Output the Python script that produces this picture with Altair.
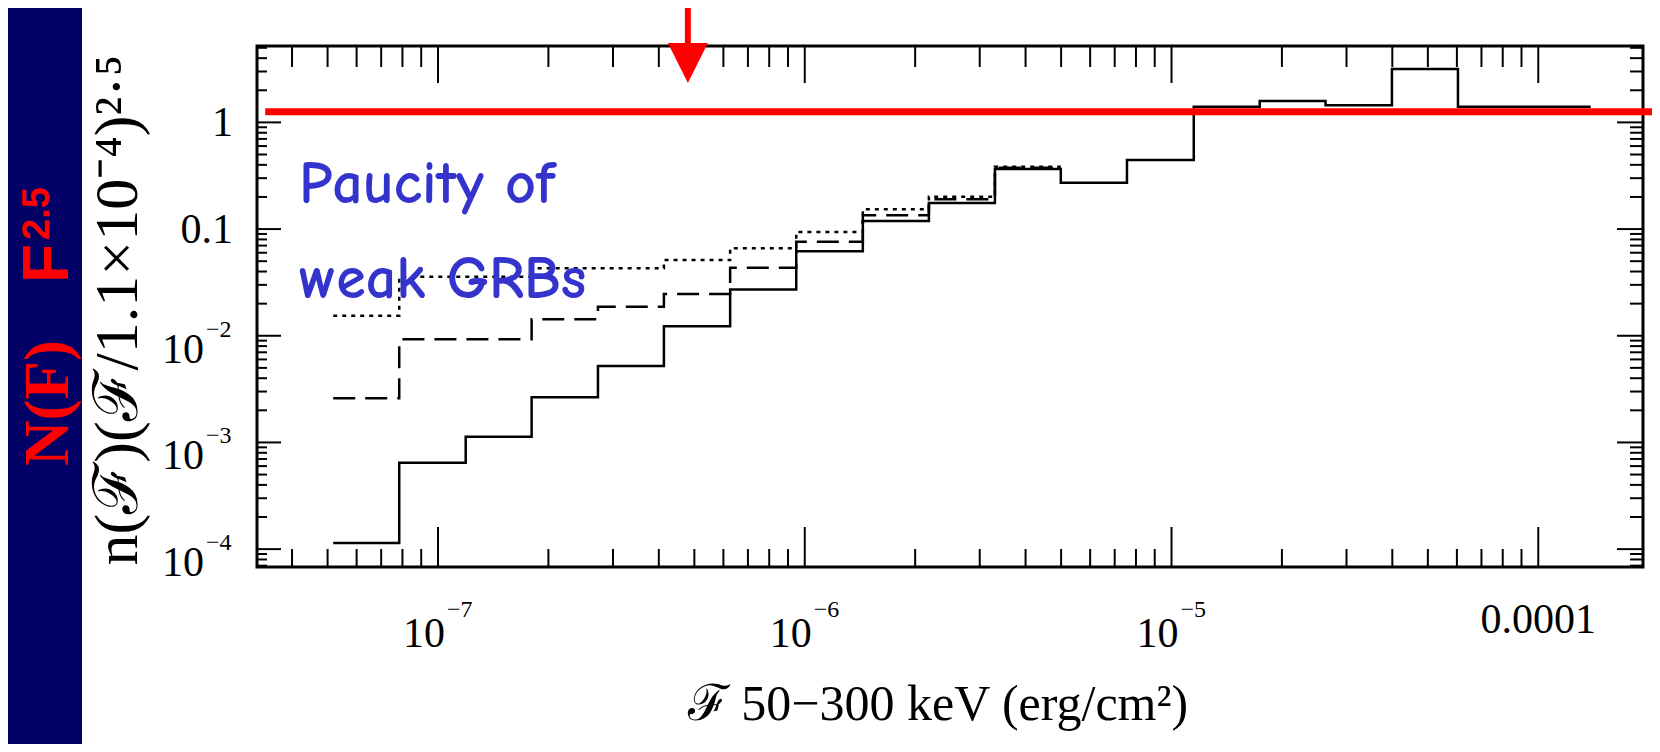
import altair as alt
import pandas as pd

# ---------------- data ----------------
# histogram bin edges (erg/cm^2)
edges = [5.18e-8, 7.84e-8, 1.19e-7, 1.80e-7, 2.73e-7, 4.13e-7, 6.26e-7, 9.48e-7,
         1.44e-6, 2.18e-6, 3.30e-6, 4.99e-6, 7.56e-6, 1.15e-5, 1.74e-5, 2.63e-5,
         3.99e-5, 6.04e-5, 9.15e-5, 1.39e-4]
solid_vals = [1.14e-4, 6.45e-4, 1.13e-3, 2.65e-3, 5.2e-3, 1.23e-2, 2.72e-2, 6.2e-2,
              0.119, 0.176, 0.365, 0.272, 0.443, 1.40, 1.59, 1.45, 3.16, 1.40, 1.40]
dashed_vals = [2.6e-3, 9.25e-3, 9.25e-3, 1.43e-2, 1.87e-2, 2.46e-2, 4.34e-2, 7.6e-2,
               0.135, 0.19, 0.375]
dotted_vals = [1.54e-2, 3.57e-2, 3.57e-2, 4.3e-2, 4.3e-2, 5.12e-2, 6.6e-2, 9.4e-2,
               0.153, 0.201, 0.384]

# axis labels
x_pow_vals = [1e-7, 1e-6, 1e-5]
x_pow_exp = ["\u22127", "\u22126", "\u22125"]
x_plain_vals = [1e-4]
x_plain_text = ["0.0001"]
y_pow_vals = [1e-2, 1e-3, 1e-4]
y_pow_exp = ["\u22122", "\u22123", "\u22124"]
y_plain_vals = [1.0, 0.1]
y_plain_text = ["1", "0.1"]

# tick positions
x_major = [1e-7, 1e-6, 1e-5, 1e-4]
y_major = [1e-4, 1e-3, 1e-2, 1e-1, 1.0]
X_LO, X_HI = 3.21e-8, 1.93e-4
Y_LO, Y_HI = 6.8e-5, 5.2
x_minor = [k * 10.0 ** d for d in range(-8, -3) for k in range(2, 10)
           if X_LO < k * 10.0 ** d < X_HI]
y_minor = [k * 10.0 ** d for d in range(-5, 1) for k in range(2, 10)
           if Y_LO < k * 10.0 ** d < Y_HI]

# annotations
red_line_y = [1.26]
red_line_x = [3.38e-8]
red_line_x2 = [2.2e-4]
arrow_x = [4.8e-7]

# ---------------- layout ----------------
W, H = 1386, 521
PAD = {"left": 249, "top": 38, "right": 9, "bottom": 177}
SERIF = "Liberation Serif, Times New Roman, serif"
SANS = "Liberation Sans, Arial, sans-serif"
NAVY = "#000066"
RED = "#ff0000"
BLUE = "#3434cc"

xs = alt.Scale(type="log", domain=[X_LO, X_HI], nice=False)
ys = alt.Scale(type="log", domain=[Y_LO, Y_HI], nice=False)


def step_df(vals):
    xs_ = edges[:len(vals) + 1]
    return pd.DataFrame({"x": xs_, "y": list(vals) + [vals[-1]]})


one = pd.DataFrame({"a": [0]})

navy = alt.Chart(one).mark_rect(color=NAVY).encode(
    x=alt.value(-PAD["left"]), x2=alt.value(-175),
    y=alt.value(-PAD["top"]), y2=alt.value(H + PAD["bottom"]))


def step_layer(vals, dash):
    kw = dict(interpolate="step-after", color="black", strokeWidth=2.5)
    if dash:
        kw["strokeDash"] = dash
    return alt.Chart(step_df(vals)).mark_line(**kw).encode(
        x=alt.X("x:Q", scale=xs, axis=None),
        y=alt.Y("y:Q", scale=ys, axis=None))


solid = step_layer(solid_vals, None)
dashed = step_layer(dashed_vals, [22, 10])
dotted = step_layer(dotted_vals, [4, 5])


def xtick(vals, y0, y1):
    return alt.Chart(pd.DataFrame({"v": vals})).mark_rule(color="black", strokeWidth=2).encode(
        x=alt.X("v:Q", scale=xs, axis=None), y=alt.value(y0), y2=alt.value(y1))


def ytick(vals, x0, x1):
    return alt.Chart(pd.DataFrame({"v": vals})).mark_rule(color="black", strokeWidth=2).encode(
        y=alt.Y("v:Q", scale=ys, axis=None), x=alt.value(x0), x2=alt.value(x1))


ticks = [
    xtick(x_major, 0, 37), xtick(x_minor, 0, 21),
    xtick(x_major, H, H - 40), xtick(x_minor, H, H - 18),
    ytick(y_major, 0, 24), ytick(y_minor, 0, 10),
    ytick(y_major, W, W - 26), ytick(y_minor, W, W - 13),
]

# x labels
xpow = pd.DataFrame({"v": x_pow_vals, "base": ["10"] * 3, "exp": x_pow_exp})
x_base = alt.Chart(xpow).mark_text(align="right", baseline="alphabetic", font=SERIF,
                                   fontSize=42, dx=7).encode(
    x=alt.X("v:Q", scale=xs, axis=None), y=alt.value(H + 80), text="base:N")
x_exp = alt.Chart(xpow).mark_text(align="left", baseline="alphabetic", font=SERIF,
                                  fontSize=24, dx=9).encode(
    x=alt.X("v:Q", scale=xs, axis=None), y=alt.value(H + 50), text="exp:N")
x_plain = alt.Chart(pd.DataFrame({"v": x_plain_vals, "t": x_plain_text})).mark_text(
    align="center", baseline="alphabetic", font=SERIF, fontSize=42).encode(
    x=alt.X("v:Q", scale=xs, axis=None), y=alt.value(H + 66), text="t:N")

# y labels
ypow = pd.DataFrame({"v": y_pow_vals, "base": ["10"] * 3, "exp": y_pow_exp})
y_base = alt.Chart(ypow).mark_text(align="right", baseline="alphabetic", font=SERIF,
                                   fontSize=42, dy=27).encode(
    y=alt.Y("v:Q", scale=ys, axis=None), x=alt.value(-53), text="base:N")
y_exp = alt.Chart(ypow).mark_text(align="left", baseline="alphabetic", font=SERIF,
                                  fontSize=24, dy=1).encode(
    y=alt.Y("v:Q", scale=ys, axis=None), x=alt.value(-51), text="exp:N")
y_plain = alt.Chart(pd.DataFrame({"v": y_plain_vals, "t": y_plain_text})).mark_text(
    align="right", baseline="alphabetic", font=SERIF, fontSize=42, dy=14).encode(
    y=alt.Y("v:Q", scale=ys, axis=None), x=alt.value(-24), text="t:N")

# axis titles
x_title = alt.Chart(one).mark_text(align="center", baseline="alphabetic", font=SERIF,
                                   fontSize=50, text="\u2131 50\u2212300 keV (erg/cm\u00b2)").encode(
    x=alt.value(681), y=alt.value(674))
y_title = alt.Chart(one).mark_text(align="center", baseline="alphabetic", font=SERIF,
                                   fontSize=62, angle=270,
                                   text="n(\u2131)(\u2131/1.1\u00d710\u207b\u2074)\u00b2\u00b7\u2075").encode(
    x=alt.value(-120), y=alt.value(264))

# red slide annotations on the navy strip
nf = alt.Chart(one).mark_text(align="left", baseline="alphabetic", font=SERIF,
                              fontWeight="bold", fontSize=63, angle=270, color=RED,
                              text="N(F)").encode(
    x=alt.value(-189), y=alt.value(420))
f_big = alt.Chart(one).mark_text(align="left", baseline="alphabetic", font=SANS,
                                 fontWeight="bold", fontSize=64, angle=270, color=RED,
                                 text="F").encode(
    x=alt.value(-189), y=alt.value(237))
f_exp = alt.Chart(one).mark_text(align="left", baseline="alphabetic", font=SANS,
                                 fontWeight="bold", fontSize=38, angle=270, color=RED,
                                 text="2.5").encode(
    x=alt.value(-208), y=alt.value(194))

red_line = alt.Chart(pd.DataFrame({"x": red_line_x, "x2": red_line_x2, "y": red_line_y})).mark_rule(
    color=RED, strokeWidth=7).encode(
    x=alt.X("x:Q", scale=xs, axis=None), x2="x2:Q", y=alt.Y("y:Q", scale=ys, axis=None))

arrow_df = pd.DataFrame({"x": arrow_x})
arrow_shaft = alt.Chart(arrow_df).mark_rule(color=RED, strokeWidth=6).encode(
    x=alt.X("x:Q", scale=xs, axis=None), y=alt.value(-PAD["top"]), y2=alt.value(0))
arrow_head = alt.Chart(arrow_df).mark_point(shape="M-1,-1L1,-1L0,1Z", size=1600, filled=True,
                                            color=RED, opacity=1, strokeWidth=0).encode(
    x=alt.X("x:Q", scale=xs, axis=None), y=alt.value(17))

ANN_FONT = "Comic Neue, Comic Sans MS, Lato, sans-serif"
paucity = alt.Chart(one).mark_text(align="left", baseline="alphabetic", font=ANN_FONT,
                                   fontWeight="bold", fontSize=60, color=BLUE,
                                   text="Paucity of").encode(x=alt.value(42), y=alt.value(157))
weak = alt.Chart(one).mark_text(align="left", baseline="alphabetic", font=ANN_FONT,
                                fontWeight="bold", fontSize=60, color=BLUE,
                                text="weak GRBs").encode(x=alt.value(42), y=alt.value(252))

chart = alt.layer(
    navy, solid, dashed, dotted, *ticks,
    x_base, x_exp, x_plain, y_base, y_exp, y_plain, x_title, y_title,
    nf, f_big, f_exp, red_line, arrow_shaft, arrow_head, paucity, weak,
).properties(
    width=W, height=H, padding=PAD,
    autosize=alt.AutoSizeParams(type="none"),
).configure_view(stroke="black", strokeWidth=3)

chart.save("out.html", embed_options={"renderer": "svg", "actions": False})
